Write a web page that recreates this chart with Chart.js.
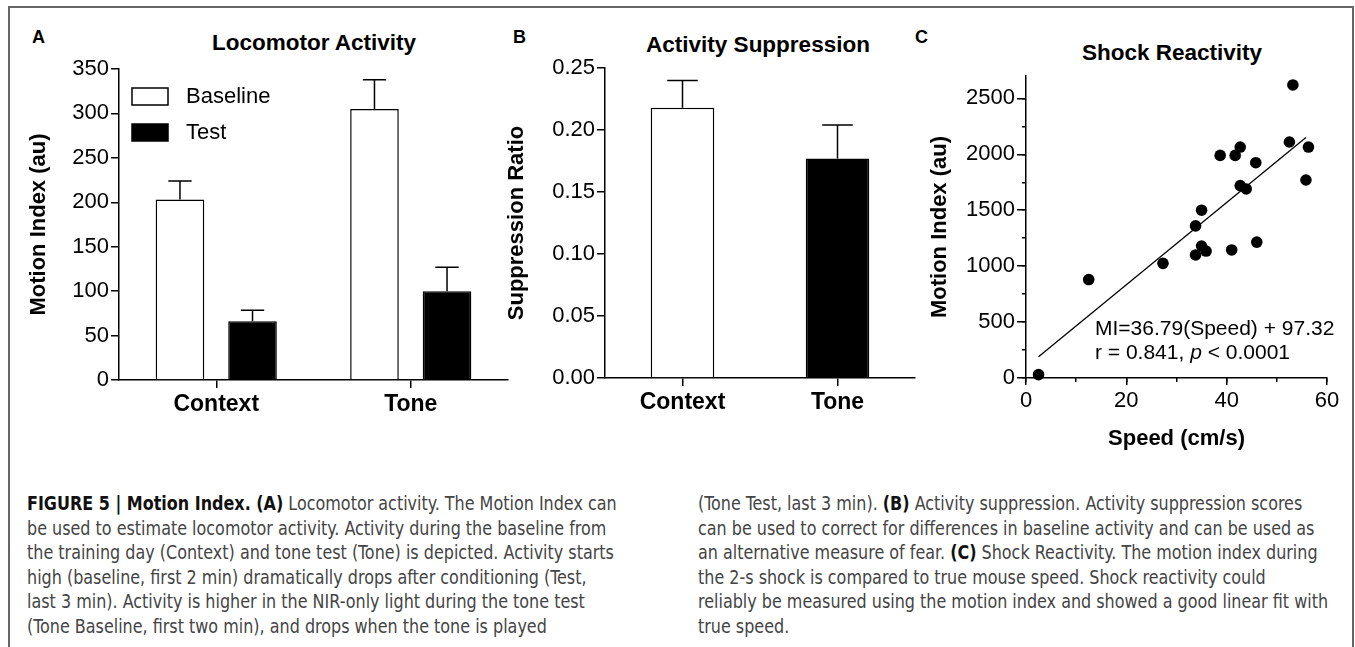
<!DOCTYPE html>
<html>
<head>
<meta charset="utf-8">
<script src="https://cdn.jsdelivr.net/npm/chart.js@4.4.1/dist/chart.umd.min.js"></script>
<style>
  body { margin: 0; background: #fff; width: 1355px; height: 647px; overflow: hidden; position: relative;
         font-family: "Liberation Sans", Arial, sans-serif; }
  .frame { position: absolute; left: 8px; top: 6px; width: 1342px; height: 700px; border: 2px solid #666; }
  canvas { position: absolute; }
  .lbl { position: absolute; font-weight: bold; line-height: 1; white-space: nowrap; color: #000; }
  .ttl { font-size: 22.5px; transform: translateX(-50%); }
  .cap { position: absolute; font-family: "DejaVu Sans Condensed", "Liberation Sans Narrow", sans-serif;
         font-size: 19px; line-height: 24.5px; color: #444; white-space: nowrap;
         transform: scaleX(0.935); transform-origin: 0 0; }
  .cap b { color: #111; }
</style>
</head>
<body>
<div class="frame"></div>

<div class="lbl" style="left:32px;top:28px;font-size:18px">A</div>
<div class="lbl" style="left:513px;top:28px;font-size:18px">B</div>
<div class="lbl" style="left:915px;top:28px;font-size:18px">C</div>
<div class="lbl ttl" style="left:314px;top:32px">Locomotor Activity</div>
<div class="lbl ttl" style="left:758px;top:34px">Activity Suppression</div>
<div class="lbl ttl" style="left:1172px;top:42px">Shock Reactivity</div>

<canvas id="chartA" width="515" height="420" style="left:0;top:0"></canvas>
<canvas id="chartB" width="430" height="420" style="left:490px;top:0"></canvas>
<canvas id="chartC" width="435" height="470" style="left:920px;top:0"></canvas>

<div class="cap" style="left:27px;top:491px">
  <b>FIGURE 5 | Motion Index. (A)</b> Locomotor activity. The Motion Index can<br>
  be used to estimate locomotor activity. Activity during the baseline from<br>
  the training day (Context) and tone test (Tone) is depicted. Activity starts<br>
  high (baseline, first 2 min) dramatically drops after conditioning (Test,<br>
  last 3 min). Activity is higher in the NIR-only light during the tone test<br>
  (Tone Baseline, first two min), and drops when the tone is played
</div>
<div class="cap" style="left:698px;top:491px">
  (Tone Test, last 3 min). <b>(B)</b> Activity suppression. Activity suppression scores<br>
  can be used to correct for differences in baseline activity and can be used as<br>
  an alternative measure of fear. <b>(C)</b> Shock Reactivity. The motion index during<br>
  the 2-s shock is compared to true mouse speed. Shock reactivity could<br>
  reliably be measured using the motion index and showed a good linear fit with<br>
  true speed.
</div>

<script>
// panel A: locomotor activity
const groupLabels = ['Context', 'Tone'];
const baselineMeans = [203, 305];
const baselineSem = [21, 33];
const testMeans = [66, 100];
const testSem = [12.5, 27];

// panel B: suppression ratio
const ratioMeans = [0.218, 0.177];
const ratioSem = [0.022, 0.027];

// panel C: shock reactivity
const speedVals = [2.5, 12.5, 27.3, 33.8, 33.8, 35, 35, 35.9, 38.7, 41, 41.7, 42.7, 42.7, 43.9, 45.8, 46, 52.5, 53.2, 56.3, 55.8];
const motionVals = [30, 880, 1025, 1100, 1360, 1500, 1180, 1135, 1990, 1145, 1990, 2065, 1720, 1690, 1925, 1215, 2110, 2620, 2065, 1770];
const fitSpeed = [2.5, 55.8];
const fitMotion = [189, 2150];
const motionTicks = [0, 500, 1000, 1500, 2000, 2500];
const motionMinorTicks = [0, 250, 500, 750, 1000, 1250, 1500, 1750, 2000, 2250, 2500];
const speedTicks = [0, 20, 40, 60];
const speedMinorTicks = [0, 10, 20, 30, 40, 50, 60];

Chart.defaults.font.family = '"Liberation Sans", Arial, sans-serif';
Chart.defaults.color = '#000';
Chart.defaults.animation = false;

const black = '#000';

function axisGrid(len) {
  return { drawOnChartArea: false, tickLength: len, color: black, lineWidth: 1.5 };
}

function fixedTicks(values) {
  return s => { s.ticks = values.map(v => ({ value: v })); };
}

const errorBars = {
  id: 'errorBars',
  afterDatasetsDraw(chart) {
    const { ctx } = chart;
    const y = chart.scales.y;
    ctx.save();
    ctx.strokeStyle = black;
    ctx.lineWidth = 1.5;
    chart.data.datasets.forEach((ds, i) => {
      if (!ds.errors) return;
      chart.getDatasetMeta(i).data.forEach((bar, j) => {
        const top = y.getPixelForValue(ds.data[j] + ds.errors[j]);
        const half = bar.width * 0.24;
        ctx.beginPath();
        ctx.moveTo(bar.x, bar.y);
        ctx.lineTo(bar.x, top);
        ctx.moveTo(bar.x - half, top);
        ctx.lineTo(bar.x + half, top);
        ctx.stroke();
      });
    });
    ctx.restore();
  }
};

const boxLegend = {
  id: 'boxLegend',
  afterDraw(chart) {
    const { ctx, chartArea } = chart;
    ctx.save();
    ctx.font = '22px "Liberation Sans", Arial, sans-serif';
    ctx.textBaseline = 'middle';
    chart.data.datasets.forEach((ds, i) => {
      const x = chartArea.left + 13;
      const y = chartArea.top + 19 + i * 36;
      ctx.fillStyle = ds.backgroundColor;
      ctx.fillRect(x, y, 36, 17);
      ctx.lineWidth = 1.5;
      ctx.strokeStyle = black;
      ctx.strokeRect(x, y, 36, 17);
      ctx.fillStyle = black;
      ctx.fillText(ds.label, x + 54, y + 9);
    });
    ctx.restore();
  }
};

const fitNote = {
  id: 'fitNote',
  afterDraw(chart) {
    const { ctx, chartArea } = chart;
    const x = chartArea.left + 69;
    ctx.save();
    ctx.fillStyle = black;
    ctx.textBaseline = 'middle';
    const reg = '21px "Liberation Sans", Arial, sans-serif';
    ctx.font = reg;
    ctx.fillText('MI=36.79(Speed) + 97.32', x, chartArea.top + 253);
    let cx = x;
    const parts = [['r = 0.841, ', reg], ['p', 'italic ' + reg], [' < 0.0001', reg]];
    parts.forEach(([t, f]) => {
      ctx.font = f;
      ctx.fillText(t, cx, chartArea.top + 277);
      cx += ctx.measureText(t).width;
    });
    ctx.restore();
  }
};

new Chart(document.getElementById('chartA'), {
  type: 'bar',
  data: {
    labels: groupLabels,
    datasets: [
      { label: 'Baseline', data: baselineMeans, errors: baselineSem, backgroundColor: '#fff',
        borderColor: black, borderWidth: 1.5, barPercentage: 0.67, categoryPercentage: 0.746 },
      { label: 'Test', data: testMeans, errors: testSem, backgroundColor: black,
        borderColor: black, borderWidth: 1.5, barPercentage: 0.67, categoryPercentage: 0.746 }
    ]
  },
  options: {
    responsive: false,
    layout: { padding: { left: 0, top: 69, right: 7, bottom: 0 } },
    plugins: { legend: { display: false }, tooltip: { enabled: false } },
    scales: {
      x: {
        grid: { ...axisGrid(8), offset: false },
        border: { color: black, width: 1.5 },
        ticks: { color: black, font: { size: 23, weight: 'bold' }, padding: 3 },
        afterFit: s => { s.height = 40; }
      },
      y: {
        min: 0, max: 350,
        ticks: { stepSize: 50, color: black, font: { size: 22 }, padding: 2 },
        grid: axisGrid(8),
        border: { color: black, width: 1.5 },
        title: { display: true, text: 'Motion Index (au)', color: black,
                 font: { size: 22, weight: 'bold' }, padding: { top: 26, bottom: 0 } },
        afterFit: s => { s.width = 119; }
      }
    }
  },
  plugins: [errorBars, boxLegend]
});

new Chart(document.getElementById('chartB'), {
  type: 'bar',
  data: {
    labels: groupLabels,
    datasets: [
      { label: 'Suppression Ratio', data: ratioMeans, errors: ratioSem, backgroundColor: ['#fff', black],
        borderColor: black, borderWidth: 1.5, barPercentage: 0.41, categoryPercentage: 1 }
    ]
  },
  options: {
    responsive: false,
    layout: { padding: { left: 0, top: 68, right: 5, bottom: 0 } },
    plugins: { legend: { display: false }, tooltip: { enabled: false } },
    scales: {
      x: {
        grid: { ...axisGrid(8), offset: false },
        border: { color: black, width: 1.5 },
        ticks: { color: black, font: { size: 23, weight: 'bold' }, padding: 3 },
        afterFit: s => { s.height = 42; }
      },
      y: {
        min: 0, max: 0.25,
        ticks: { stepSize: 0.05, color: black, font: { size: 22 }, padding: 2,
                 callback: v => v.toFixed(2) },
        grid: axisGrid(8),
        border: { color: black, width: 1.5 },
        title: { display: true, text: 'Suppression Ratio', color: black,
                 font: { size: 22, weight: 'bold' }, padding: { top: 14, bottom: 0 } },
        afterFit: s => { s.width = 115; }
      }
    }
  },
  plugins: [errorBars]
});

new Chart(document.getElementById('chartC'), {
  type: 'scatter',
  data: {
    datasets: [
      { label: 'Mice', data: speedVals.map((s, i) => ({ x: s, y: motionVals[i] })),
        pointRadius: 5.8, backgroundColor: black, borderWidth: 0, clip: false },
      { type: 'line', label: 'Fit', data: fitSpeed.map((s, i) => ({ x: s, y: fitMotion[i] })),
        borderColor: black, borderWidth: 1.3, pointRadius: 0, fill: false }
    ]
  },
  options: {
    responsive: false,
    layout: { padding: { left: 0, top: 76, right: 28, bottom: 0 } },
    plugins: { legend: { display: false }, tooltip: { enabled: false } },
    scales: {
      x: {
        type: 'linear', position: 'bottom', weight: 1,
        min: 0, max: 60,
        afterBuildTicks: fixedTicks(speedTicks),
        ticks: { color: black, font: { size: 22 }, padding: 3, callback: v => v },
        grid: axisGrid(7),
        border: { color: black, width: 1.5 },
        title: { display: true, text: 'Speed (cm/s)', color: black,
                 font: { size: 22, weight: 'bold' }, padding: { top: 0, bottom: 18 } },
        afterFit: s => { s.height = 92; }
      },
      xm: {
        type: 'linear', position: 'bottom', weight: 0,
        min: 0, max: 60,
        afterBuildTicks: fixedTicks(speedMinorTicks),
        ticks: { display: false, autoSkip: false },
        grid: axisGrid(4),
        border: { display: false },
        afterFit: s => { s.height = 0; }
      },
      y: {
        type: 'linear', position: 'left', weight: 1,
        min: 0, max: 2700,
        afterBuildTicks: fixedTicks(motionTicks),
        ticks: { color: black, font: { size: 22 }, padding: 2, autoSkip: false, callback: v => v },
        grid: axisGrid(9),
        border: { color: black, width: 1.5 },
        title: { display: true, text: 'Motion Index (au)', color: black,
                 font: { size: 22, weight: 'bold' }, padding: { top: 7, bottom: 0 } },
        afterFit: s => { s.width = 106; }
      },
      ym: {
        type: 'linear', position: 'left', weight: 0,
        min: 0, max: 2700,
        afterBuildTicks: fixedTicks(motionMinorTicks),
        ticks: { display: false, autoSkip: false },
        grid: axisGrid(4),
        border: { display: false },
        afterFit: s => { s.width = 0; }
      }
    }
  },
  plugins: [fitNote]
});
</script>
</body>
</html>
